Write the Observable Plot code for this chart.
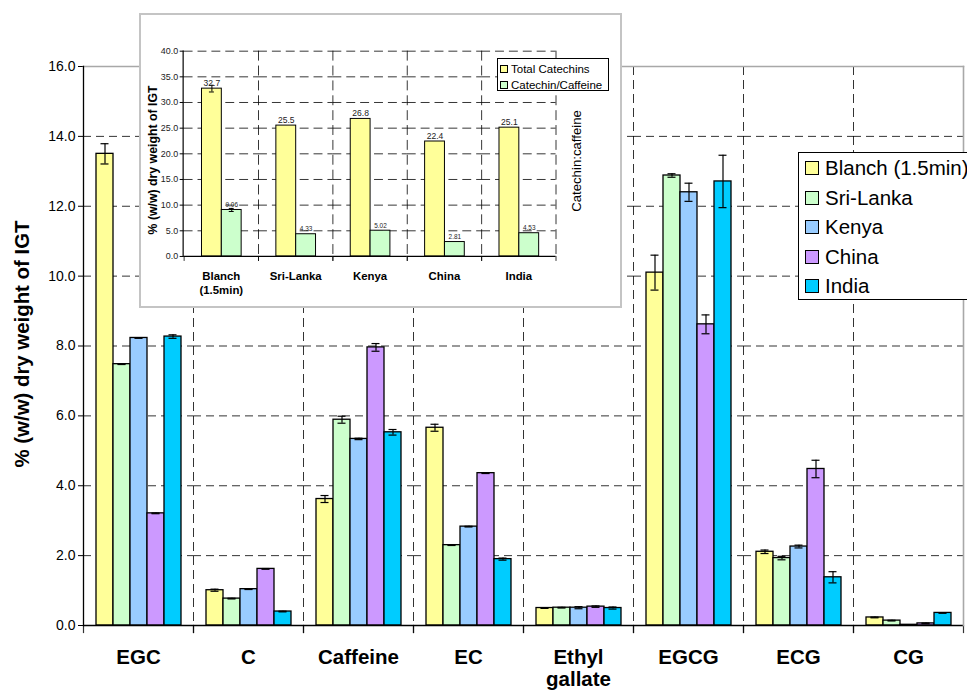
<!DOCTYPE html>
<html><head><meta charset="utf-8">
<script src="https://cdn.jsdelivr.net/npm/d3@7"></script>
<script src="https://cdn.jsdelivr.net/npm/@observablehq/plot@0.6"></script>
<style>
html,body{margin:0;padding:0;background:#fff;}
#chart{position:relative;width:967px;height:693px;overflow:hidden;font-family:"Liberation Sans",Arial,Helvetica,sans-serif;color:#000;background:#fff;}
#chart svg{position:absolute;left:0;top:0;overflow:visible;}
.rot{position:absolute;white-space:nowrap;transform:translate(-50%,-50%) rotate(-90deg);}
#inset{position:absolute;left:139px;top:13px;width:483px;height:295px;box-sizing:border-box;border:2px solid #c4c4c4;background:#fff;}
#inset svg{left:-2px;top:-2px;}
.legend{position:absolute;background:#fff;border:1px solid #000;box-sizing:border-box;}
.legend .row{position:absolute;white-space:nowrap;display:flex;align-items:center;}
.legend .sw{box-sizing:border-box;border:1px solid #000;display:inline-block;}
</style></head><body><div id="chart"></div><script>
// ---------- main chart data ----------
const categories = ["EGC","C","Caffeine","EC","Ethyl gallate","EGCG","ECG","CG"];
const categoryLabels = ["EGC","C","Caffeine","EC","Ethyl\ngallate","EGCG","ECG","CG"];
const countries = ["Blanch (1.5min)","Sri-Lanka","Kenya","China","India"];
const countryColors = ["#FFFF99","#CCFFCC","#99CCFF","#CC99FF","#00CCFF"];
const blanchValues   = [13.50,1.01,3.62,5.66,0.50,10.10,2.11,0.23];
const blanchErrors   = [0.29,0.03,0.10,0.10,0.01,0.50,0.05,0.01];
const sriLankaValues = [7.48,0.77,5.89,2.30,0.51,12.88,1.93,0.14];
const sriLankaErrors = [0.01,0.01,0.10,0.01,0.01,0.05,0.05,0.01];
const kenyaValues    = [8.23,1.04,5.34,2.83,0.51,12.40,2.26,0.02];
const kenyaErrors    = [0.01,0.01,0.02,0.01,0.03,0.26,0.04,0.00];
const chinaValues    = [3.21,1.62,7.96,4.36,0.54,8.62,4.48,0.06];
const chinaErrors    = [0.01,0.01,0.11,0.01,0.02,0.27,0.25,0.01];
const indiaValues    = [8.27,0.40,5.53,1.90,0.50,12.71,1.38,0.36];
const indiaErrors    = [0.05,0.01,0.08,0.03,0.03,0.75,0.16,0.01];
const yTicks = [0,2,4,6,8,10,12,14,16];
const yLabel = "% (w/w) dry weight of IGT";

// ---------- inset data ----------
const insetGroups = ["Blanch (1.5min)","Sri-Lanka","Kenya","China","India"];
const insetGroupLabels = ["Blanch\n(1.5min)","Sri-Lanka","Kenya","China","India"];
const insetSeries = ["Total Catechins","Catechin/Caffeine"];
const insetColors = ["#FFFF99","#CCFFCC"];
const totalCatechins = [32.7,25.5,26.8,22.4,25.1];
const totalCatechinsErr = [0.65,0,0,0,0];
const catechinCaffeine = [9.06,4.33,5.02,2.81,4.53];
const catechinCaffeineErr = [0.3,0,0,0,0];
const totalLabels = ["32.7","25.5","26.8","22.4","25.1"];
const ratioLabels = ["9.06","4.33","5.02","2.81","4.53"];
const insetYTicks = [0,5,10,15,20,25,30,35,40];
const insetRightLabel = "Catechin:caffeine";

// ---------- build tables ----------
const seriesValues = [blanchValues,sriLankaValues,kenyaValues,chinaValues,indiaValues];
const seriesErrors = [blanchErrors,sriLankaErrors,kenyaErrors,chinaErrors,indiaErrors];
const rows = [];
categories.forEach((c,ci)=>countries.forEach((k,ki)=>rows.push({category:c,country:k,value:seriesValues[ki][ci],err:seriesErrors[ki][ci]})));
const insetRows = [];
insetGroups.forEach((g,gi)=>{
  insetRows.push({group:g,series:insetSeries[0],value:totalCatechins[gi],err:totalCatechinsErr[gi],label:totalLabels[gi]});
  insetRows.push({group:g,series:insetSeries[1],value:catechinCaffeine[gi],err:catechinCaffeineErr[gi],label:ratioLabels[gi]});
});

const FONT = "Liberation Sans, Arial, Helvetica, sans-serif";
const chart = document.getElementById("chart");

// ---------- main plot ----------
const W=967,H=693,M={top:66,right:4,bottom:68,left:83};
const plotH = H-M.top-M.bottom;
const main = Plot.plot({
  width:W,height:H,marginTop:M.top,marginRight:M.right,marginBottom:M.bottom,marginLeft:M.left,
  style:{fontFamily:FONT,fontSize:"14px",color:"#000",background:"transparent",overflow:"visible"},
  fx:{domain:categories,padding:0,label:null},
  x:{domain:countries,paddingInner:0,paddingOuter:0.735,axis:null},
  y:{domain:[0,16],label:null},
  color:{domain:countries,range:countryColors},
  marks:[
    Plot.gridY(yTicks.filter(t=>t>0),{stroke:"#000",strokeOpacity:0.8,strokeDasharray:"8,5"}),
    Plot.frame({anchor:"right",stroke:"#000",strokeOpacity:0.8,strokeDasharray:"8,6"}),
    Plot.barY(rows,{fx:"category",x:"country",y:"value",fill:"country",stroke:"#000",strokeWidth:1.3}),
    Plot.ruleX(rows,{fx:"category",x:"country",y1:d=>d.value-d.err,y2:d=>d.value+d.err,stroke:"#000",strokeWidth:1.2}),
    Plot.tickY(rows,{fx:"category",x:"country",y:d=>d.value-d.err,insetLeft:4.5,insetRight:4.5,stroke:"#000",strokeWidth:1.2}),
    Plot.tickY(rows,{fx:"category",x:"country",y:d=>d.value+d.err,insetLeft:4.5,insetRight:4.5,stroke:"#000",strokeWidth:1.2}),
    Plot.ruleY([0],{stroke:"#000",strokeWidth:1.3}),
    Plot.frame({anchor:"left",insetTop:plotH,insetBottom:-7,stroke:"#000",strokeOpacity:0.8,strokeWidth:1.2}),
    Plot.frame({anchor:"right",insetTop:plotH,insetBottom:-7,stroke:"#000",strokeOpacity:0.8,strokeWidth:1.2}),
    Plot.axisY({ticks:yTicks,tickFormat:d3.format(".1f"),tickSize:5,tickPadding:3,fontSize:14,label:null}),
    Plot.axisFx({anchor:"bottom",tickSize:0,tickPadding:23,fontSize:20.5,fontWeight:"bold",lineHeight:1.08,label:null,
      tickFormat:d=>categoryLabels[categories.indexOf(d)]})
  ]
});
chart.appendChild(main);

const overlay = Plot.plot({
  width:W,height:H,marginTop:M.top,marginRight:M.right,marginBottom:M.bottom,marginLeft:M.left,
  style:{background:"transparent",overflow:"visible"},
  x:{domain:[0,1],axis:null},y:{domain:[0,16],axis:null},
  marks:[
    Plot.frame({anchor:"top",stroke:"#a8a8a8",strokeWidth:1.5}),
    Plot.frame({anchor:"right",stroke:"#a8a8a8",strokeWidth:1.6}),
    Plot.frame({anchor:"left",stroke:"#000",strokeWidth:1.3})
  ]
});
chart.appendChild(overlay);

// main y label
const yl = document.createElement("div");
yl.className="rot"; yl.textContent=yLabel;
Object.assign(yl.style,{left:"22px",top:"344px",fontSize:"20.4px",fontWeight:"bold"});
chart.appendChild(yl);

// ---------- inset ----------
const insetDiv = document.createElement("div");
insetDiv.id="inset";
chart.appendChild(insetDiv);
const IW=483,IH=295,IM={top:38,right:62,bottom:50,left:44};
const insetPlotH = IH-IM.top-IM.bottom;
const inset = Plot.plot({
  width:IW,height:IH,marginTop:IM.top,marginRight:IM.right,marginBottom:IM.bottom,marginLeft:IM.left,
  style:{fontFamily:FONT,fontSize:"9px",color:"#000",background:"transparent",overflow:"visible"},
  fx:{domain:insetGroups,padding:0,label:null},
  x:{domain:insetSeries,paddingInner:0,paddingOuter:0.79,axis:null},
  y:{domain:[0,40],label:null},
  color:{domain:insetSeries,range:insetColors},
  marks:[
    Plot.gridY(insetYTicks.filter(t=>t>0),{stroke:"#000",strokeOpacity:0.8,strokeDasharray:"9,5"}),
    Plot.frame({anchor:"right",stroke:"#000",strokeOpacity:0.8,strokeDasharray:"9,6"}),
    Plot.barY(insetRows,{fx:"group",x:"series",y:"value",fill:"series",stroke:"#000",strokeWidth:1}),
    Plot.ruleX(insetRows.filter(d=>d.err>0),{fx:"group",x:"series",y1:d=>d.value-d.err,y2:d=>d.value+d.err,stroke:"#000"}),
    Plot.tickY(insetRows.filter(d=>d.err>0),{fx:"group",x:"series",y:d=>d.value-d.err,insetLeft:7.5,insetRight:7.5,stroke:"#000"}),
    Plot.tickY(insetRows.filter(d=>d.err>0),{fx:"group",x:"series",y:d=>d.value+d.err,insetLeft:7.5,insetRight:7.5,stroke:"#000"}),
    Plot.text(insetRows.filter(d=>d.series===insetSeries[0]),{fx:"group",x:"series",y:"value",text:"label",lineAnchor:"bottom",dy:-3,fontSize:8.6,fill:"#222"}),
    Plot.text(insetRows.filter(d=>d.series===insetSeries[1]),{fx:"group",x:"series",y:"value",text:"label",lineAnchor:"bottom",dy:-3,fontSize:6.5,fill:"#222"}),
    Plot.ruleY([0],{stroke:"#000",strokeWidth:1.2}),
    Plot.frame({anchor:"left",insetTop:insetPlotH,insetBottom:-4,stroke:"#000",strokeOpacity:0.8}),
    Plot.frame({anchor:"right",insetTop:insetPlotH,insetBottom:-4,stroke:"#000",strokeOpacity:0.8}),
    Plot.axisY({ticks:insetYTicks,tickFormat:d3.format(".1f"),tickSize:4,tickPadding:2,fontSize:9,label:null,fill:"#222"}),
    Plot.axisFx({anchor:"bottom",tickSize:0,tickPadding:14,fontSize:11.5,fontWeight:"bold",lineHeight:1.2,label:null,
      tickFormat:d=>insetGroupLabels[insetGroups.indexOf(d)]})
  ]
});
insetDiv.appendChild(inset);
const insetOverlay = Plot.plot({
  width:IW,height:IH,marginTop:IM.top,marginRight:IM.right,marginBottom:IM.bottom,marginLeft:IM.left,
  style:{background:"transparent",overflow:"visible"},
  x:{domain:[0,1],axis:null},y:{domain:[0,40],axis:null},
  marks:[Plot.frame({anchor:"left",stroke:"#000",strokeWidth:1.2})]
});
insetDiv.appendChild(insetOverlay);

const iyl = document.createElement("div");
iyl.className="rot"; iyl.textContent=yLabel;
Object.assign(iyl.style,{left:"153px",top:"160px",fontSize:"12.3px",fontWeight:"bold"});
chart.appendChild(iyl);
const irl = document.createElement("div");
irl.className="rot"; irl.textContent=insetRightLabel;
Object.assign(irl.style,{left:"576px",top:"161px",fontSize:"13.2px"});
chart.appendChild(irl);

// legends
function makeLegend(names, colors, box, sw, textX, rowY, fontSize){
  const lg = document.createElement("div");
  lg.className="legend";
  Object.assign(lg.style,{left:box.x+"px",top:box.y+"px",width:box.w+"px",height:box.h+"px"});
  names.forEach((n,i)=>{
    const r = document.createElement("div");
    r.className="row";
    Object.assign(r.style,{left:sw.x+"px",top:(rowY[i]-10)+"px",height:"20px",fontSize:fontSize+"px"});
    const s = document.createElement("span");
    s.className="sw";
    Object.assign(s.style,{width:sw.size+"px",height:sw.size+"px",background:colors[i],marginRight:(textX-sw.x-sw.size)+"px"});
    r.appendChild(s);
    r.appendChild(document.createTextNode(n));
    lg.appendChild(r);
  });
  chart.appendChild(lg);
}
makeLegend(insetSeries, insetColors, {x:497,y:58,w:112,h:33}, {x:2,size:8}, 13, [10,25.5], 11.5);
makeLegend(countries, countryColors, {x:798,y:152,w:200,h:148}, {x:6,size:14}, 26, [15,44.5,74,103.5,133], 20.5);
</script></body></html>
